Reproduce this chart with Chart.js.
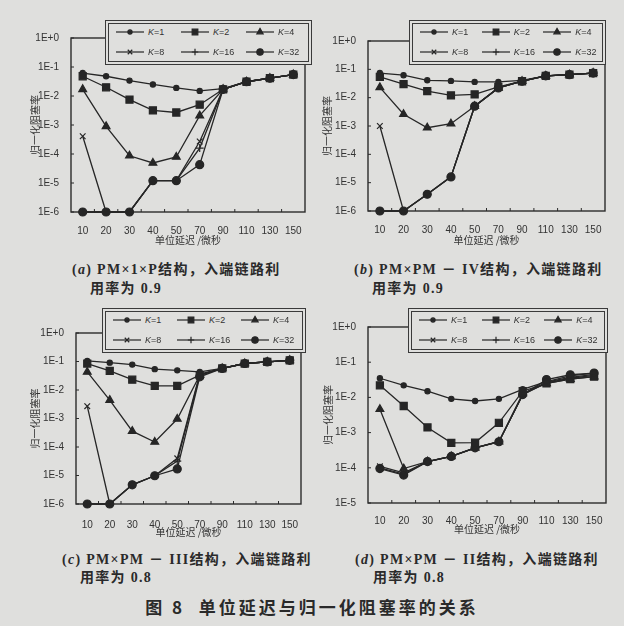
<!DOCTYPE html>
<html lang="zh">
<head>
<meta charset="UTF-8">
<title>图8 单位延迟与归一化阻塞率的关系</title>
<script src="https://cdn.jsdelivr.net/npm/chart.js"></script>
<style>
  html, body { margin: 0; padding: 0; }
  body { background: #dfdfdd; width: 624px; height: 626px; overflow: hidden; }
  #fig { position: relative; width: 624px; height: 626px; }
  canvas { position: absolute; }
  .legend {
    position: absolute; box-sizing: border-box; height: 45px;
    border: 1px solid #3a3a3a; background: #dfdfdd;
    box-shadow: inset 0 0 0 2px #dfdfdd, inset 0 0 0 3px #3a3a3a;
  }
  .item { position: absolute; display: flex; align-items: center; height: 12px;
    font: 9px "Liberation Sans", Arial, sans-serif; color: #333; }
  .item canvas { position: static; margin-right: 3px; }
  .cap { position: absolute; font: bold 14px "Liberation Serif", "Noto Sans CJK SC", serif;
    color: #2a2a2a; white-space: nowrap; letter-spacing: 1.3px; }
  .cap i { font-weight: bold; }
  #title { position: absolute; left: 0; width: 624px; top: 594px; text-align: center;
    font: bold 17px "Noto Sans CJK SC", sans-serif; letter-spacing: 3px; color: #2a2a2a; }
</style>
</head>
<body>
<div id="fig">
  <canvas id="ca" width="312" height="250" style="left:0;top:0"></canvas>
  <canvas id="cb" width="312" height="250" style="left:312px;top:0"></canvas>
  <canvas id="cc" width="312" height="240" style="left:0;top:300px"></canvas>
  <canvas id="cd" width="312" height="240" style="left:312px;top:300px"></canvas>

  <div class="cap" style="left:72px;top:258px">(<i>a</i>) PM×1×P结构，入端链路利</div>
  <div class="cap" style="left:90px;top:277px">用率为 0.9</div>
  <div class="cap" style="left:354px;top:258px">(<i>b</i>) PM×PM － IV结构，入端链路利</div>
  <div class="cap" style="left:372px;top:277px">用率为 0.9</div>
  <div class="cap" style="left:62px;top:548px">(<i>c</i>) PM×PM － III结构，入端链路利</div>
  <div class="cap" style="left:80px;top:566px">用率为 0.8</div>
  <div class="cap" style="left:355px;top:548px">(<i>d</i>) PM×PM － II结构，入端链路利</div>
  <div class="cap" style="left:373px;top:566px">用率为 0.8</div>
  <div id="title">图 8&nbsp;&nbsp;单位延迟与归一化阻塞率的关系</div>
</div>

<script>
// x categories: unit delay (microseconds)
const delays = ['10', '20', '30', '40', '50', '70', '90', '110', '130', '150'];
const kNames = ['K=1', 'K=2', 'K=4', 'K=8', 'K=16', 'K=32'];

// (a) PM x 1 x P, load 0.9
const aK1  = [0.062, 0.048, 0.034, 0.025, 0.019, 0.015, 0.018, 0.031, 0.041, 0.055];
const aK2  = [0.048, 0.020, 0.0075, 0.0032, 0.0027, 0.005, 0.017, 0.031, 0.041, 0.055];
const aK4  = [0.017, 0.0009, 8.7e-5, 4.9e-5, 7.9e-5, 0.0021, 0.017, 0.031, 0.041, 0.055];
const aK8  = [4.1e-4, 1e-6, 1e-6, 1.2e-5, 1.2e-5, 2.7e-4, 0.017, 0.031, 0.041, 0.055];
const aK16 = [1e-6, 1e-6, 1e-6, 1.2e-5, 1.2e-5, 1.6e-4, 0.017, 0.031, 0.041, 0.055];
const aK32 = [1e-6, 1e-6, 1e-6, 1.2e-5, 1.2e-5, 4.3e-5, 0.017, 0.031, 0.041, 0.055];

// (b) PM x PM - IV, load 0.9
const bK1  = [0.074, 0.062, 0.041, 0.039, 0.036, 0.036, 0.041, 0.059, 0.065, 0.074];
const bK2  = [0.054, 0.030, 0.017, 0.012, 0.013, 0.024, 0.038, 0.059, 0.065, 0.074];
const bK4  = [0.023, 0.0026, 8.7e-4, 0.0012, 0.005, 0.022, 0.038, 0.059, 0.065, 0.074];
const bK8  = [0.001, 1e-6, 3.9e-6, 1.6e-5, 0.005, 0.022, 0.038, 0.059, 0.065, 0.074];
const bK16 = [1e-6, 1e-6, 3.9e-6, 1.6e-5, 0.005, 0.022, 0.038, 0.059, 0.065, 0.074];
const bK32 = [1e-6, 1e-6, 3.9e-6, 1.6e-5, 0.005, 0.022, 0.038, 0.059, 0.065, 0.074];

// (c) PM x PM - III, load 0.8
const cK1  = [0.105, 0.091, 0.078, 0.054, 0.049, 0.043, 0.057, 0.085, 0.097, 0.11];
const cK2  = [0.085, 0.047, 0.023, 0.014, 0.014, 0.033, 0.057, 0.085, 0.097, 0.11];
const cK4  = [0.043, 0.0044, 3.6e-4, 1.5e-4, 9.6e-4, 0.033, 0.057, 0.085, 0.097, 0.11];
const cK8  = [0.0027, 1e-6, 4.7e-6, 9.8e-6, 4.0e-5, 0.036, 0.057, 0.085, 0.097, 0.11];
const cK16 = [1e-6, 1e-6, 4.7e-6, 9.8e-6, 3.2e-5, 0.033, 0.057, 0.085, 0.097, 0.11];
const cK32 = [1e-6, 1e-6, 4.7e-6, 9.8e-6, 1.7e-5, 0.029, 0.057, 0.085, 0.097, 0.11];

// (d) PM x PM - II, load 0.8
const dK1  = [0.035, 0.022, 0.015, 0.0091, 0.0079, 0.0091, 0.017, 0.028, 0.041, 0.049];
const dK2  = [0.022, 0.0057, 0.0014, 5.1e-4, 5.2e-4, 0.0019, 0.015, 0.025, 0.033, 0.039];
const dK4  = [0.0046, 9.5e-5, 1.5e-4, 2.1e-4, 3.7e-4, 5.5e-4, 0.013, 0.025, 0.033, 0.039];
const dK8  = [1.1e-4, 7.2e-5, 1.5e-4, 2.1e-4, 3.7e-4, 5.5e-4, 0.012, 0.026, 0.035, 0.042];
const dK16 = [1.0e-4, 6.6e-5, 1.5e-4, 2.1e-4, 3.7e-4, 5.5e-4, 0.012, 0.027, 0.037, 0.045];
const dK32 = [9.5e-5, 6.2e-5, 1.5e-4, 2.1e-4, 3.7e-4, 5.5e-4, 0.012, 0.032, 0.044, 0.049];

const ink = '#262626';
const markers = [
  { pointStyle: 'circle', pointRadius: 2.6 },
  { pointStyle: 'rect', pointRadius: 5 },
  { pointStyle: 'triangle', pointRadius: 4.5 },
  { pointStyle: 'crossRot', pointRadius: 4 },
  { pointStyle: 'cross', pointRadius: 4 },
  { pointStyle: 'circle', pointRadius: 4 }
];

// box around plot area plus small inward ticks
const framePlugin = {
  id: 'frame',
  beforeDatasetsDraw(chart) {
    const { ctx, chartArea: a, scales } = chart;
    ctx.save();
    ctx.strokeStyle = '#2b2b2b';
    ctx.lineWidth = 1.4;
    ctx.strokeRect(a.left, a.top, a.right - a.left, a.bottom - a.top);
    ctx.lineWidth = 1;
    ctx.beginPath();
    scales.y.ticks.forEach(t => {
      const y = scales.y.getPixelForValue(t.value);
      ctx.moveTo(a.left, y); ctx.lineTo(a.left + 3, y);
    });
    for (let i = 1; i < delays.length; i++) {
      const x = (scales.x.getPixelForValue(i - 1) + scales.x.getPixelForValue(i)) / 2;
      ctx.moveTo(x, a.bottom); ctx.lineTo(x, a.bottom - 3);
    }
    ctx.stroke();
    ctx.restore();
  }
};

function makeChart(id, series, cfg) {
  const decades = [];
  for (let e = cfg.minExp; e <= 0; e++) decades.push(Math.pow(10, e));
  return new Chart(document.getElementById(id), {
    type: 'line',
    data: {
      labels: delays,
      datasets: series.map((vals, i) => Object.assign({
        label: kNames[i],
        data: vals,
        borderColor: ink,
        backgroundColor: ink,
        pointBackgroundColor: ink,
        pointBorderColor: ink,
        pointBorderWidth: 1.2,
        borderWidth: 1.3,
        tension: 0,
        clip: false
      }, markers[i]))
    },
    options: {
      responsive: false,
      animation: false,
      layout: { padding: { left: 0, top: cfg.top, right: cfg.right, bottom: 0 } },
      plugins: { legend: { display: false }, tooltip: { enabled: false } },
      scales: {
        x: {
          type: 'category',
          offset: true,
          grid: { display: false },
          border: { display: false },
          ticks: {
            color: '#333', padding: cfg.xPad, maxRotation: 0, minRotation: 0, autoSkip: false,
            font: { family: 'Liberation Sans', size: 10 }
          },
          title: {
            display: true, text: '单位延迟 /微秒', color: '#333',
            font: { family: 'Noto Sans CJK SC', size: 10 },
            padding: { top: 0, bottom: cfg.xTitlePad }
          },
          afterFit: s => { s.height = cfg.xh; }
        },
        y: {
          type: 'logarithmic',
          min: Math.pow(10, cfg.minExp),
          max: 1,
          grid: { display: false },
          border: { display: false },
          afterBuildTicks: s => { s.ticks = decades.map(v => ({ value: v })); },
          ticks: {
            color: '#333', padding: 4,
            font: { family: 'Liberation Sans', size: 10 },
            callback: v => {
              const e = Math.round(Math.log10(v));
              return '1E' + (e >= 0 ? '+' + e : e);
            }
          },
          title: {
            display: true, text: '归一化阻塞率', color: '#333',
            font: { family: 'Noto Sans CJK SC', size: 10 },
            padding: { top: cfg.yTitlePad, bottom: 0 }
          },
          afterFit: s => { s.width = cfg.yw; }
        }
      }
    },
    plugins: [framePlugin]
  });
}

function makeLegend(left, top, width) {
  const box = document.createElement('div');
  box.className = 'legend';
  box.style.left = left + 'px';
  box.style.top = top + 'px';
  box.style.width = width + 'px';
  const colW = (width - 12) / 3;
  kNames.forEach((name, i) => {
    const item = document.createElement('div');
    item.className = 'item';
    item.style.left = (9 + (i % 3) * colW) + 'px';
    item.style.top = (i < 3 ? 5 : 25) + 'px';
    const cv = document.createElement('canvas');
    cv.width = 30; cv.height = 12;
    const g = cv.getContext('2d');
    g.strokeStyle = ink; g.fillStyle = ink; g.lineWidth = 1.2;
    g.beginPath(); g.moveTo(1, 6); g.lineTo(29, 6); g.stroke();
    Chart.helpers.drawPoint(g, {
      pointStyle: markers[i].pointStyle,
      radius: markers[i].pointRadius * 0.8,
      borderWidth: 1.2, rotation: 0
    }, 15, 6);
    item.appendChild(cv);
    const txt = document.createElement('span');
    txt.innerHTML = '<i>K</i>' + name.slice(1);
    item.appendChild(txt);
    box.appendChild(item);
  });
  document.getElementById('fig').appendChild(box);
}

makeChart('ca', [aK1, aK2, aK4, aK8, aK16, aK32],
  { minExp: -6, top: 38, right: 7, yw: 71, xh: 38, xPad: 5, xTitlePad: 4, yTitlePad: 29 });
makeChart('cb', [bK1, bK2, bK4, bK8, bK16, bK32],
  { minExp: -6, top: 41, right: 19, yw: 56, xh: 39, xPad: 5, xTitlePad: 4, yTitlePad: 9 });
makeChart('cc', [cK1, cK2, cK4, cK8, cK16, cK32],
  { minExp: -6, top: 33, right: 11, yw: 76, xh: 36, xPad: 7, xTitlePad: 2, yTitlePad: 29 });
makeChart('cd', [dK1, dK2, dK4, dK8, dK16, dK32],
  { minExp: -5, top: 27, right: 18, yw: 56, xh: 37, xPad: 4, xTitlePad: 5, yTitlePad: 10 });

makeLegend(105, 20, 207);
makeLegend(409, 20, 197);
makeLegend(102, 308, 204);
makeLegend(408, 308, 200);
</script>
</body>
</html>
